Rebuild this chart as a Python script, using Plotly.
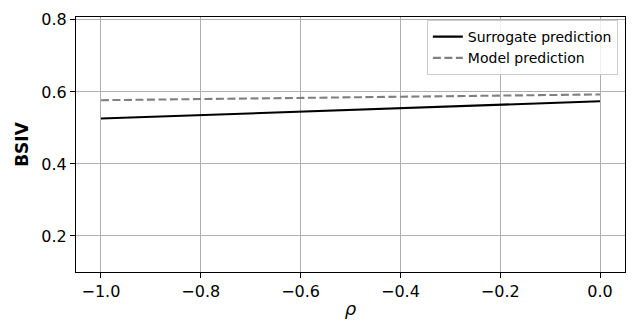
import plotly.graph_objects as go

rho = [-1.0, -0.8, -0.6, -0.4, -0.2, 0.0]
surrogate = [0.526, 0.536, 0.545, 0.555, 0.564, 0.574]
model = [0.577, 0.580, 0.583, 0.586, 0.590, 0.593]

fig = go.Figure()
fig.add_trace(go.Scatter(x=rho, y=surrogate, mode="lines", name="Surrogate prediction",
                         line=dict(color="black", width=2.1)))
fig.add_trace(go.Scatter(x=rho, y=model, mode="lines", name="Model prediction",
                         line=dict(color="#808080", width=2.1, dash="8px,3.5px")))

axis_common = dict(showline=True, linecolor="black", linewidth=1, mirror=True,
                   ticks="outside", ticklen=5, tickcolor="black", tickwidth=1,
                   showgrid=True, gridcolor="#b0b0b0", gridwidth=1, zeroline=False,
                   automargin=False,
                   tickfont=dict(family="DejaVu Sans", size=16, color="black"))

# page body has an 8px default margin, so the figure is sized/offset to compensate
fig.update_layout(
    width=632, height=328,
    margin=dict(l=68, r=15, t=9, b=64),
    paper_bgcolor="white", plot_bgcolor="white",
    font=dict(family="DejaVu Sans", color="black"),
    xaxis=dict(range=[-1.05, 0.05], tickvals=[-1.0, -0.8, -0.6, -0.4, -0.2, 0.0],
               tickformat=".1f",
               title=dict(text="<i>ρ</i>", font=dict(family="DejaVu Sans", size=18), standoff=2),
               **axis_common),
    yaxis=dict(range=[0.1, 0.808], tickvals=[0.2, 0.4, 0.6, 0.8], tickformat=".1f",
               title=dict(text="<b>BSIV</b>", font=dict(family="DejaVu Sans", size=17), standoff=8),
               **axis_common),
    legend=dict(x=0.987, y=0.988, xanchor="right", yanchor="top",
                bgcolor="rgba(255,255,255,0.8)", bordercolor="#cccccc", borderwidth=1,
                font=dict(family="DejaVu Sans", size=14, color="black"),
                tracegroupgap=0),
    showlegend=True,
)

fig.write_html("out.html")
